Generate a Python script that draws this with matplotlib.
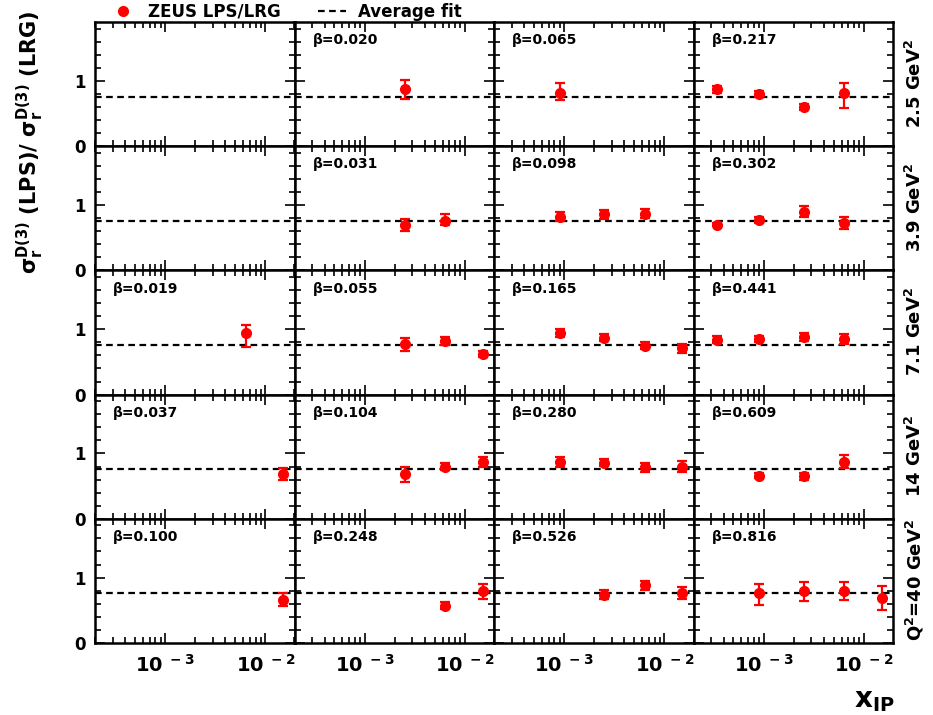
import matplotlib
matplotlib.use('Agg')
from matplotlib import pyplot as plt
from matplotlib.ticker import FixedLocator, MultipleLocator, LogLocator, FuncFormatter, NullFormatter
from matplotlib.lines import Line2D
import numpy as np

# rows = Q^2 bins, columns = beta bins
q2_labels = [r'2.5 GeV$^\mathbf{2}$', r'3.9 GeV$^\mathbf{2}$', r'7.1 GeV$^\mathbf{2}$',
             r'14 GeV$^\mathbf{2}$', r'Q$^\mathbf{2}$=40 GeV$^\mathbf{2}$']
betas = [
    [None, '0.020', '0.065', '0.217'],
    [None, '0.031', '0.098', '0.302'],
    ['0.019', '0.055', '0.165', '0.441'],
    ['0.037', '0.104', '0.280', '0.609'],
    ['0.100', '0.248', '0.526', '0.816'],
]
xip_bins = [3.4e-4, 9e-4, 2.5e-3, 6.4e-3, 1.5e-2]
avg_fit = 0.76

# one entry per measured point
pt_row = [0, 0, 0, 0, 0, 0,
          1, 1, 1, 1, 1, 1, 1, 1, 1,
          2, 2, 2, 2, 2, 2, 2, 2, 2, 2, 2, 2,
          3, 3, 3, 3, 3, 3, 3, 3, 3, 3, 3,
          4, 4, 4, 4, 4, 4, 4, 4, 4, 4]
pt_col = [1, 2, 3, 3, 3, 3,
          1, 1, 2, 2, 2, 3, 3, 3, 3,
          0, 1, 1, 1, 2, 2, 2, 2, 3, 3, 3, 3,
          0, 1, 1, 1, 2, 2, 2, 2, 3, 3, 3,
          0, 1, 1, 2, 2, 2, 3, 3, 3, 3]
pt_bin = [2, 1, 0, 1, 2, 3,
          2, 3, 1, 2, 3, 0, 1, 2, 3,
          3, 2, 3, 4, 1, 2, 3, 4, 0, 1, 2, 3,
          4, 2, 3, 4, 1, 2, 3, 4, 1, 2, 3,
          4, 3, 4, 2, 3, 4, 1, 2, 3, 4]
ratio = [0.87, 0.82, 0.87, 0.80, 0.60, 0.81,
         0.69, 0.76, 0.82, 0.86, 0.87, 0.70, 0.77, 0.89, 0.73,
         0.94, 0.78, 0.82, 0.62, 0.94, 0.87, 0.75, 0.71, 0.84, 0.85, 0.88, 0.85,
         0.69, 0.68, 0.80, 0.87, 0.87, 0.86, 0.79, 0.80, 0.66, 0.65, 0.87,
         0.66, 0.57, 0.79, 0.74, 0.88, 0.76, 0.76, 0.80, 0.80, 0.69]
err_up = [0.15, 0.15, 0.05, 0.05, 0.05, 0.15,
          0.10, 0.11, 0.07, 0.07, 0.07, 0.02, 0.05, 0.10, 0.09,
          0.13, 0.09, 0.06, 0.05, 0.06, 0.05, 0.06, 0.07, 0.05, 0.04, 0.06, 0.07,
          0.09, 0.11, 0.06, 0.08, 0.07, 0.05, 0.07, 0.08, 0.04, 0.05, 0.11,
          0.10, 0.05, 0.11, 0.07, 0.07, 0.09, 0.14, 0.14, 0.14, 0.18]
err_dn = [0.15, 0.12, 0.05, 0.05, 0.05, 0.23,
          0.09, 0.06, 0.07, 0.08, 0.07, 0.02, 0.05, 0.08, 0.10,
          0.21, 0.11, 0.06, 0.05, 0.06, 0.05, 0.06, 0.07, 0.05, 0.04, 0.06, 0.07,
          0.10, 0.11, 0.06, 0.08, 0.07, 0.05, 0.07, 0.08, 0.04, 0.05, 0.10,
          0.10, 0.05, 0.12, 0.07, 0.07, 0.09, 0.18, 0.15, 0.14, 0.18]

plt.rcParams['font.family'] = 'DejaVu Sans'
plt.rcParams['font.weight'] = 'bold'
plt.rcParams['axes.linewidth'] = 1.8


def log_label(v, pos):
    e = int(round(np.log10(v)))
    return r'$\mathbf{10^{\ %d}}$' % e


fig, axes = plt.subplots(5, 4, figsize=(9.33, 7.15), dpi=100, sharex=True, sharey=True)
plt.subplots_adjust(left=95/933, right=893/933, top=1-22/715, bottom=1-643/715,
                    wspace=0, hspace=0)

for r in range(5):
    for c in range(4):
        ax = axes[r, c]
        ax.set_xscale('log')
        ax.set_xlim(2e-4, 1.95e-2)
        ax.set_ylim(0, 1.9)
        ax.yaxis.set_major_locator(FixedLocator([0, 1]))
        ax.yaxis.set_minor_locator(MultipleLocator(0.2))
        ax.xaxis.set_major_locator(LogLocator(base=10))
        ax.xaxis.set_minor_locator(LogLocator(base=10, subs=np.arange(2, 10)))
        ax.xaxis.set_major_formatter(FuncFormatter(log_label))
        ax.xaxis.set_minor_formatter(NullFormatter())
        ax.tick_params(which='both', direction='in', top=True, right=True, width=1.2)
        ax.tick_params(which='major', length=7, labelsize=12, pad=7)
        ax.tick_params(axis='x', which='major', labelsize=14, pad=8)
        ax.tick_params(which='minor', length=4)
        ax.axhline(avg_fit, color='black', lw=1.6, dashes=(3, 2))
        if betas[r][c] is not None:
            ax.text(0.09, 0.91, '\u03b2=' + betas[r][c], transform=ax.transAxes,
                    fontsize=10, va='top', ha='left')
    fig.text(915/933, 1-(22+124*(r+0.5))/715, q2_labels[r], rotation=90,
             ha='center', va='center', fontsize=13)

for i in range(len(ratio)):
    ax = axes[pt_row[i], pt_col[i]]
    ax.errorbar([xip_bins[pt_bin[i]]], [ratio[i]], yerr=[[err_dn[i]], [err_up[i]]],
                fmt='o', color='red', markersize=7, elinewidth=1.6, capsize=3.5,
                capthick=1.6, zorder=3)

handles = [Line2D([], [], marker='o', color='red', ls='none', markersize=7),
           Line2D([], [], color='black', lw=1.6, dashes=(3, 2))]
fig.legend(handles, ['ZEUS LPS/LRG', 'Average fit'], ncol=2, frameon=False,
           loc='center left', bbox_to_anchor=(100/933, 1-12/715), fontsize=12,
           handlelength=1.7, handletextpad=0.7, columnspacing=2.2, borderpad=0)

fig.text(30/933, 1-142/715, r'$\mathrm{\sigma_r^{D(3)}}$ (LPS)/ $\mathrm{\sigma_r^{D(3)}}$ (LRG)',
         rotation=90, ha='center', va='center', fontsize=15)
fig.text(874/933, 1-700/715, r'$\mathbf{x_{IP}}$', ha='center', va='center', fontsize=20)

fig.savefig('out.png', dpi=100)
